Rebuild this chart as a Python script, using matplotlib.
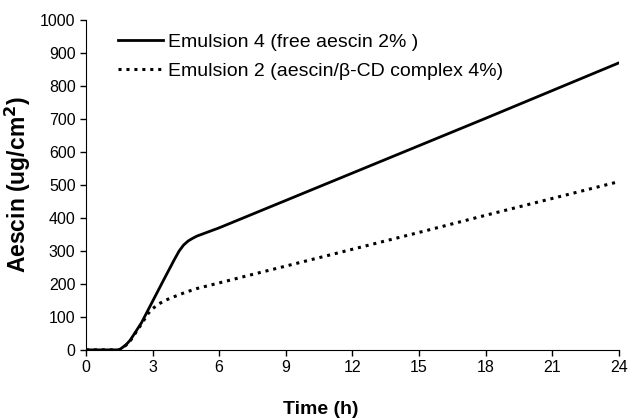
import matplotlib
matplotlib.use("Agg")
import matplotlib.pyplot as plt

plt.rcParams['font.family'] = ['Liberation Sans', 'DejaVu Sans']

# Emulsion 4 (free aescin 2%)
t_free = [0, 1.5, 1.8, 2.0, 2.5, 3.0, 3.5, 4.0, 4.2, 4.4, 4.6, 4.8, 5.0, 6, 9, 12, 15, 18, 21, 24]
y_free = [0, 0, 15, 30, 82, 147, 212, 276, 300, 318, 330, 338, 345, 370, 453, 536, 619, 702, 786, 870]

# Emulsion 2 (aescin/beta-CD complex 4%)
t_cd = [0, 1.5, 1.8, 2.0, 2.5, 2.8, 3.0, 3.3, 3.6, 4.0, 4.5, 5.0, 6, 7.4, 9, 12, 15, 18, 21, 24]
y_cd = [0, 0, 14, 28, 78, 110, 125, 140, 151, 162, 175, 186, 203, 227, 254, 305, 356, 408, 459, 510]

fig = plt.figure(figsize=(6.32, 4.18), dpi=100)
ax = fig.add_axes([0.136, 0.163, 0.843, 0.789])

ax.plot(t_free, y_free, color='black', lw=2, label='Emulsion 4 (free aescin 2% )')
ax.plot(t_cd, y_cd, color='black', lw=2.2, linestyle=(0, (1, 1.6)),
        label='Emulsion 2 (aescin/β-CD complex 4%)')

ax.set_xlim(0, 24)
ax.set_ylim(0, 1000)
ax.set_xticks(range(0, 25, 3))
ax.set_yticks(range(0, 1001, 100))
ax.tick_params(labelsize=11.5, direction='out', length=4, width=1)
ax.spines['top'].set_visible(False)
ax.spines['right'].set_visible(False)
ax.set_xlabel('Time (h)', fontsize=14, fontweight='bold')
ax.xaxis.set_label_coords(0.44, -0.155)
ax.set_ylabel('Aescin (ug/cm$^\\mathbf{2}$)', fontsize=16.5, fontweight='bold')
ax.yaxis.set_label_coords(-0.1, 0.5)

ax.legend(loc='upper left', bbox_to_anchor=(0.06, 0.96), frameon=False,
          borderpad=0, borderaxespad=0,
          fontsize=14, handlelength=2.3, handletextpad=0.25, labelspacing=0.6)

fig.savefig('out.png', dpi=100)
